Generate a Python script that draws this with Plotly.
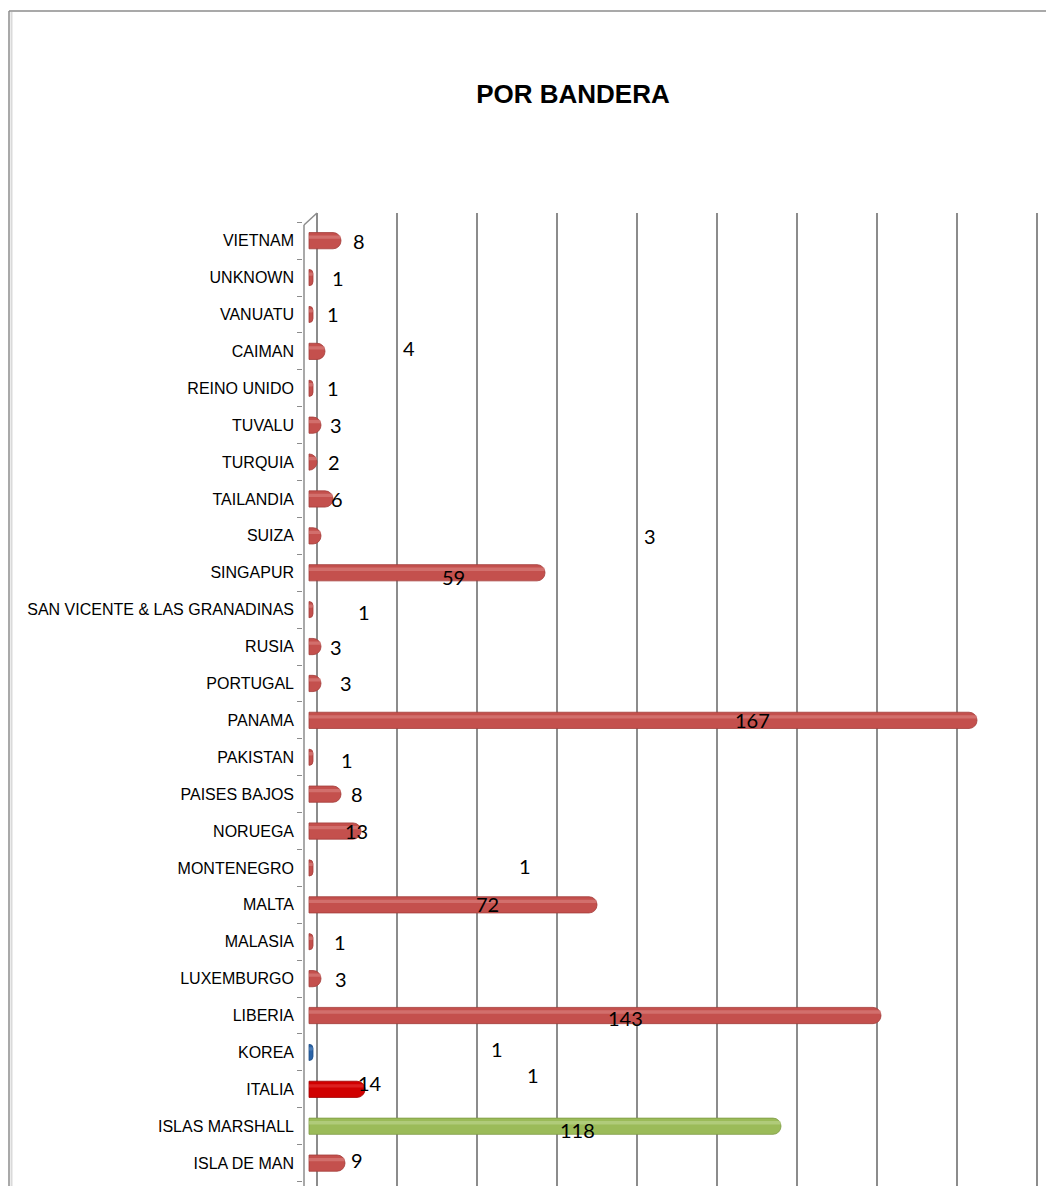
import plotly.graph_objects as go

# ---- data (bottom to top as drawn) ----
categories = ["ISLA DE MAN", "ISLAS MARSHALL", "ITALIA", "KOREA", "LIBERIA",
              "LUXEMBURGO", "MALASIA", "MALTA", "MONTENEGRO", "NORUEGA",
              "PAISES BAJOS", "PAKISTAN", "PANAMA", "PORTUGAL", "RUSIA",
              "SAN VICENTE & LAS GRANADINAS", "SINGAPUR", "SUIZA", "TAILANDIA",
              "TURQUIA", "TUVALU", "REINO UNIDO", "CAIMAN", "VANUATU",
              "UNKNOWN", "VIETNAM"]
values = [9, 118, 14, 1, 143, 3, 1, 72, 1, 13, 8, 1, 167, 3, 3, 1, 59, 3, 6,
          2, 3, 1, 4, 1, 1, 8]

# ---- styles ----
RED = "#C4504D"
special_colors = {"ISLAS MARSHALL": "#9BBB59", "KOREA": "#2B64A8", "ITALIA": "#D00000"}
colors = [special_colors.get(c, RED) for c in categories]
line_colors = {"ISLAS MARSHALL": "#7E9B45", "KOREA": "#1E4E87", "ITALIA": "#A00000"}
bar_lines = [line_colors.get(c, "#A33E3B") for c in categories]
hi_colors_map = {"ISLAS MARSHALL": "#C6DB9C", "KOREA": "#6A95C8", "ITALIA": "#E84040"}
hi_colors = [hi_colors_map.get(c, "#E08E8B") for c in categories]

# label placement shifts in pixels (dx, dy) relative to bar end
label_shift = {
    "VIETNAM": (18, 0), "UNKNOWN": (25, 0), "VANUATU": (20, 0), "CAIMAN": (84, 3),
    "REINO UNIDO": (20, 0), "TUVALU": (15, 0), "TURQUIA": (17, 0), "TAILANDIA": (4, 0),
    "SUIZA": (329, 0), "SINGAPUR": (-92, -4), "SAN VICENTE & LAS GRANADINAS": (51, -2),
    "RUSIA": (15, 0), "PORTUGAL": (25, 0), "PANAMA": (-225, 0), "PAKISTAN": (34, -3),
    "PAISES BAJOS": (16, 0), "NORUEGA": (-5, 0), "MONTENEGRO": (212, 2),
    "MALTA": (-110, 1), "MALASIA": (27, 0), "LUXEMBURGO": (20, 0), "LIBERIA": (-256, -2),
    "KOREA": (184, 3), "ITALIA": (5, 6), "ISLAS MARSHALL": (-204, -4), "ISLA DE MAN": (12, 3),
}
extra_label = ("KOREA", 220, -23)  # stray duplicate "1" label

# page has an 8px body margin: figure coordinates = screen coordinates - 8
OFF = 8
W, H = 1054 - OFF, 1186 - OFF
L, R, T, B = 303 - OFF, 1040 - OFF, 213 - OFF, 0
pw, ph = R - L, H - T - B


def px_x(px):  # screen pixel -> paper
    return (px - OFF - L) / pw


def px_y(py):
    return (H - B - (py - OFF)) / ph


fig = go.Figure()
fig.add_trace(go.Bar(
    y=categories, x=values, orientation="h", width=0.44,
    marker=dict(color=colors, line=dict(color=bar_lines, width=0.8), cornerradius=8),
    hoverinfo="x+y",
))
# cylinder highlight
fig.add_trace(go.Bar(
    y=categories, x=values, orientation="h", width=0.09, offset=0.05,
    marker=dict(color=hi_colors, line=dict(width=0), cornerradius=3, opacity=0.5),
    hoverinfo="skip",
))

label_font = dict(family="Lato, Carlito, sans-serif", size=20, color="#000000")
annotations = []
for c, v in zip(categories, values):
    dx, dy = label_shift.get(c, (15, 0))
    annotations.append(dict(x=v, y=c, xref="x", yref="y", text=str(v), showarrow=False,
                            xanchor="center", yanchor="middle", xshift=dx, yshift=dy,
                            font=label_font))
kc, kdx, kdy = extra_label
annotations.append(dict(x=values[categories.index(kc)], y=kc, xref="x", yref="y",
                        text=str(values[categories.index(kc)]), showarrow=False,
                        xanchor="center", yanchor="middle", xshift=kdx, yshift=kdy,
                        font=label_font))

GRID = "#8C8C8C"
shapes = [
    # outer chart border (left and top)
    dict(type="line", xref="paper", yref="paper", x0=px_x(9), x1=px_x(9), y0=px_y(11), y1=px_y(1186),
         line=dict(color="#8C8C8C", width=1.5)),
    dict(type="line", xref="paper", yref="paper", x0=px_x(11.5), x1=px_x(11.5), y0=px_y(12), y1=px_y(1186),
         line=dict(color="#DADADA", width=2)),
    dict(type="line", xref="paper", yref="paper", x0=px_x(9), x1=px_x(1054), y0=px_y(11), y1=px_y(11),
         line=dict(color="#8C8C8C", width=1.5)),
    # wall front edge and top bevel
    dict(type="line", xref="paper", yref="paper", x0=px_x(304), x1=px_x(304), y0=px_y(225), y1=px_y(1186),
         line=dict(color=GRID, width=1.5)),
    dict(type="line", xref="paper", yref="paper", x0=px_x(304), x1=px_x(317), y0=px_y(225), y1=px_y(213),
         line=dict(color=GRID, width=1.5)),
]

fig.update_layout(
    width=W, height=H,
    margin=dict(l=L, r=W - R, t=T, b=B, pad=0),
    paper_bgcolor="white", plot_bgcolor="white",
    showlegend=False, barmode="overlay",
    title=dict(text="<b>POR BANDERA</b>", x=(573 - OFF) / W, xref="container", xanchor="center",
               y=1 - (94 - OFF) / H, yref="container", yanchor="middle",
               font=dict(family="Liberation Sans, Arial, sans-serif", size=26, color="#000000")),
    xaxis=dict(range=[-1.5, 182.75], tick0=2, dtick=20, showgrid=True, gridcolor=GRID,
               gridwidth=1.5, showticklabels=False, zeroline=False, showline=False, fixedrange=True),
    yaxis=dict(type="category", categoryorder="array", categoryarray=categories,
               range=[-0.62, 25.75], showgrid=False, showline=False, zeroline=False,
               ticks="outside", ticklen=5, tickcolor=GRID, tickwidth=1.2, tickson="boundaries",
               ticklabelstandoff=8,
               tickfont=dict(family="Liberation Sans, Arial, sans-serif",
                             size=16, color="#000000")),
    annotations=annotations,
    shapes=shapes,
)

fig.write_html("out.html")
